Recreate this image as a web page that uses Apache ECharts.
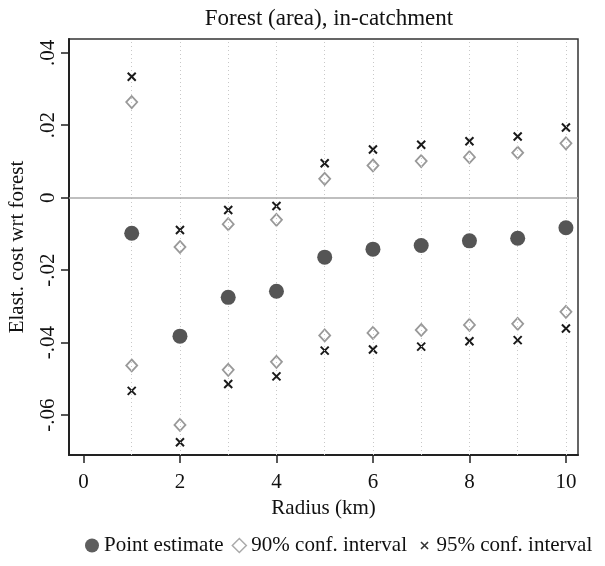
<!DOCTYPE html>
<html>
<head>
<meta charset="utf-8">
<script src="https://cdn.jsdelivr.net/npm/echarts@6/dist/echarts.min.js"></script>
<style>
html,body{margin:0;padding:0;background:#fff;}
#chart{width:605px;height:566px;}
</style>
</head>
<body>
<div id="chart"></div>
<script>
var radius = [1, 2, 3, 4, 5, 6, 7, 8, 9, 10];
var pointEstimate = [-0.0098, -0.0382, -0.0275, -0.0258, -0.0164, -0.0142, -0.0132, -0.0119, -0.0112, -0.0083];
var ci90Upper = [0.0264, -0.0136, -0.0073, -0.0061, 0.0052, 0.0089, 0.0101, 0.0112, 0.0124, 0.0150];
var ci90Lower = [-0.0463, -0.0627, -0.0475, -0.0453, -0.0380, -0.0373, -0.0365, -0.0351, -0.0348, -0.0315];
var ci95Upper = [0.0334, -0.0089, -0.0034, -0.0023, 0.0095, 0.0133, 0.0146, 0.0156, 0.0169, 0.0194];
var ci95Lower = [-0.0533, -0.0675, -0.0514, -0.0493, -0.0422, -0.0419, -0.0411, -0.0396, -0.0393, -0.0361];
var xTicks = [0, 2, 4, 6, 8, 10];
var yTicks = [-0.06, -0.04, -0.02, 0, 0.02, 0.04];

var FONT = '"Liberation Serif", "Times New Roman", serif';

function pairs(xs, ys) { return xs.map(function (x, i) { return [x, ys[i]]; }); }
function fmtY(v) {
  if (Math.abs(v) < 1e-9) return '0';
  var s = Math.abs(v).toFixed(2).replace(/^0/, '');
  return (v < 0 ? '-' : '') + s;
}

var chart = echarts.init(document.getElementById('chart'), null, {renderer: 'canvas'});
var option = {
  backgroundColor: '#fff',
  animation: false,
  title: {
    text: 'Forest (area), in-catchment',
    left: 324, top: 2, textAlign: 'center',
    textStyle: {fontFamily: FONT, fontSize: 23, fontWeight: 'normal', color: '#111'}
  },
  legend: {
    bottom: 5, left: 80,
    itemWidth: 14, itemHeight: 14, itemGap: 8,
    textStyle: {fontFamily: FONT, fontSize: 21, color: '#111'},
    data: [
      {name: 'Point estimate', icon: 'circle', itemStyle: {color: '#5e5e5e'}},
      {name: '90% conf. interval', icon: 'path://M-2,5L5,-2L12,5L5,12Z', itemStyle: {color: '#fff', borderColor: '#aaa', borderWidth: 1.5}},
      {name: '95% conf. interval', icon: 'path://M-3,-3M1,1L9,9M9,1L1,9M13,13', itemStyle: {color: 'none', borderColor: '#333', borderWidth: 1.6}}
    ]
  },
  grid: {
    left: 69, right: 27, top: 39, bottom: 111,
    outerBoundsMode: 'none', containLabel: false,
    show: true, borderColor: '#333', borderWidth: 1.5, backgroundColor: '#fff'
  },
  xAxis: {
    type: 'value', min: -0.3, max: 10.25,
    name: 'Radius (km)', nameLocation: 'middle', nameGap: 32,
    nameTextStyle: {fontFamily: FONT, fontSize: 21, color: '#111'},
    axisLine: {show: true, onZero: false, lineStyle: {color: '#222', width: 2}},
    axisTick: {show: true, length: 8, customValues: xTicks, lineStyle: {color: '#222', width: 1.5}},
    axisLabel: {customValues: xTicks, margin: 17, fontFamily: FONT, fontSize: 21, color: '#111'},
    splitLine: {show: false}
  },
  yAxis: {
    type: 'value', min: -0.071, max: 0.0438,
    name: 'Elast. cost wrt forest', nameLocation: 'middle', nameGap: 41,
    nameTextStyle: {fontFamily: FONT, fontSize: 21, color: '#111'},
    axisLine: {show: true, onZero: false, lineStyle: {color: '#222', width: 2}},
    axisTick: {show: true, length: 8, customValues: yTicks, lineStyle: {color: '#222', width: 1.5}},
    axisLabel: {customValues: yTicks, rotate: 90, margin: 10, fontFamily: FONT, fontSize: 21, color: '#111', formatter: fmtY},
    splitLine: {show: false}
  },
  series: [
    {
      name: 'guides', type: 'scatter', data: [], silent: true, z: 1,
      markLine: {
        silent: true, symbol: 'none', label: {show: false},
        data: radius.map(function (r) {
          return {xAxis: r, lineStyle: {color: '#c8c8c8', type: [1, 3], width: 1}};
        }).concat([{yAxis: 0, lineStyle: {color: '#aaa', type: 'solid', width: 1.5}}])
      }
    },
    {
      name: 'Point estimate', type: 'scatter', z: 5,
      symbol: 'circle', symbolSize: 15,
      itemStyle: {color: '#555', opacity: 1},
      data: pairs(radius, pointEstimate)
    },
    {
      name: '90% conf. interval', type: 'scatter', z: 4,
      symbol: 'diamond', symbolSize: [11, 12],
      itemStyle: {color: '#fff', borderColor: '#999', borderWidth: 1.8, opacity: 1},
      data: pairs(radius, ci90Upper).concat(pairs(radius, ci90Lower))
    },
    {
      name: '95% conf. interval', type: 'scatter', z: 4,
      symbol: 'path://M0,0L10,10M10,0L0,10', symbolSize: 8,
      itemStyle: {color: 'none', borderColor: '#1a1a1a', borderWidth: 2, opacity: 1},
      data: pairs(radius, ci95Upper).concat(pairs(radius, ci95Lower))
    }
  ]
};
chart.setOption(option);
</script>
</body>
</html>
